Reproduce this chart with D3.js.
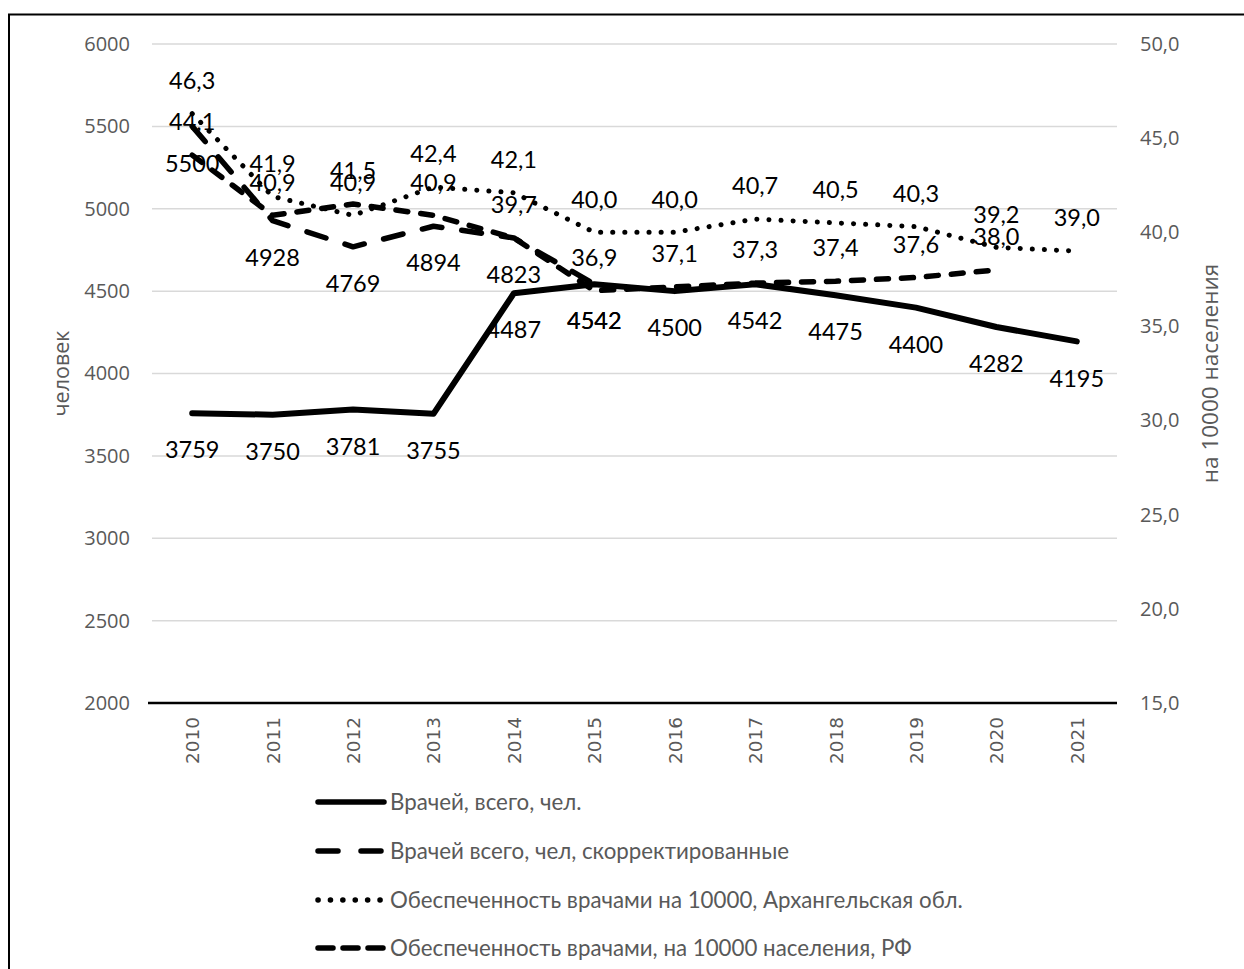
<!DOCTYPE html>
<html>
<head>
<meta charset="utf-8">
<script src="https://cdn.jsdelivr.net/npm/d3@7/dist/d3.min.js"></script>
<style>
  html, body { margin: 0; padding: 0; background: #fff; }
  svg { display: block; }
</style>
</head>
<body>
<svg id="chart" width="1244" height="969"></svg>
<script>
// Годы наблюдения
const years = [2010, 2011, 2012, 2013, 2014, 2015, 2016, 2017, 2018, 2019, 2020, 2021];

// Врачей, всего, чел.
const doctorsTotal = [3759, 3750, 3781, 3755, 4487, 4542, 4500, 4542, 4475, 4400, 4282, 4195];
// Врачей всего, чел, скорректированные (2010–2015)
const doctorsAdjusted = [5500, 4928, 4769, 4894, 4823, 4542];
// Обеспеченность врачами на 10000, Архангельская обл.
const ratioArkh = [46.3, 41.9, 40.9, 42.4, 42.1, 40.0, 40.0, 40.7, 40.5, 40.3, 39.2, 39.0];
// Обеспеченность врачами на 10000 населения, РФ (до 2020)
const ratioRF = [44.1, 40.9, 41.5, 40.9, 39.7, 36.9, 37.1, 37.3, 37.4, 37.6, 38.0];

// Деления осей
const leftTicks = [2000, 2500, 3000, 3500, 4000, 4500, 5000, 5500, 6000];
const rightTicks = [15, 20, 25, 30, 35, 40, 45, 50];

const seriesNames = [
  "Врачей, всего, чел.",
  "Врачей всего, чел, скорректированные",
  "Обеспеченность врачами на 10000, Архангельская обл.",
  "Обеспеченность врачами, на 10000 населения, РФ"
];
const leftTitle = "человек";
const rightTitle = "на 10000 населения";

const svg = d3.select("#chart");
const plot = { left: 152, right: 1117, top: 44, bottom: 703 };

const x = d3.scalePoint().domain(years).range([plot.left, plot.right]).padding(0.5);
const yL = d3.scaleLinear().domain([2000, 6000]).range([plot.bottom, plot.top]);
const yR = d3.scaleLinear().domain([15, 50]).range([plot.bottom, plot.top]);

const commaFmt = d => d3.format(".1f")(d).replace(".", ",");

// Рамка диаграммы
svg.append("rect")
  .attr("x", 9).attr("y", 14.5)
  .attr("width", 1300).attr("height", 1000)
  .attr("fill", "#fff").attr("stroke", "#000").attr("stroke-width", 2);

// Сетка
svg.append("g").selectAll("line")
  .data(leftTicks)
  .join("line")
  .attr("x1", plot.left).attr("x2", plot.right)
  .attr("y1", d => yL(d)).attr("y2", d => yL(d))
  .attr("stroke", "#d9d9d9").attr("stroke-width", 1.5);

// Левая ось
const axL = svg.append("g")
  .attr("transform", `translate(${plot.left},0)`)
  .call(d3.axisLeft(yL).tickValues(leftTicks).tickSize(0).tickPadding(22).tickFormat(d3.format("d")));
axL.select(".domain").remove();
axL.selectAll("text")
  .attr("font-family", "'Open Sans', sans-serif").attr("font-size", 20).attr("fill", "#595959");

// Правая ось
const axR = svg.append("g")
  .attr("transform", `translate(${plot.right},0)`)
  .call(d3.axisRight(yR).tickValues(rightTicks).tickSize(0).tickPadding(23).tickFormat(commaFmt));
axR.select(".domain").remove();
axR.selectAll("text")
  .attr("font-family", "'Open Sans', sans-serif").attr("font-size", 20).attr("fill", "#595959");

// Ось категорий
const axX = svg.append("g")
  .attr("transform", `translate(0,${plot.bottom})`)
  .call(d3.axisBottom(x).tickSize(0).tickFormat(d3.format("d")));
axX.select(".domain")
  .attr("d", `M${plot.left - 4},0H${plot.right}`)
  .attr("stroke", "#000").attr("stroke-width", 2.5);
axX.selectAll("text")
  .attr("font-family", "'DejaVu Sans', sans-serif").attr("font-size", 18.5).attr("fill", "#595959")
  .attr("transform", "rotate(-90)")
  .attr("x", -14).attr("y", 0).attr("dy", "0.35em")
  .attr("text-anchor", "end");

// Названия осей
svg.append("text")
  .attr("transform", `translate(61,${(plot.top + plot.bottom) / 2}) rotate(-90)`)
  .attr("text-anchor", "middle").attr("dy", "0.35em")
  .attr("font-family", "'Open Sans', sans-serif").attr("font-size", 21.5).attr("fill", "#595959")
  .text(leftTitle);
svg.append("text")
  .attr("transform", `translate(1210,${(plot.top + plot.bottom) / 2}) rotate(-90)`)
  .attr("text-anchor", "middle").attr("dy", "0.35em")
  .attr("font-family", "'Open Sans', sans-serif").attr("font-size", 22.5).attr("fill", "#595959")
  .text(rightTitle);

// Описание рядов
const series = [
  { name: seriesNames[0], values: doctorsTotal, y: yL, dash: null, width: 6, labelDy: 37, fmt: d3.format("d") },
  { name: seriesNames[1], values: doctorsAdjusted, y: yL, dash: "20,20", width: 5.5, labelDy: 37, fmt: d3.format("d") },
  { name: seriesNames[2], values: ratioArkh, y: yR, dash: "0.1,12", width: 5, labelDy: -33, fmt: commaFmt },
  { name: seriesNames[3], values: ratioRF, y: yR, dash: "12,13", width: 5.5, labelDy: -33, fmt: commaFmt }
];

const lineGen = yScale => d3.line()
  .x((d, i) => x(years[i]))
  .y(d => yScale(d));

const linesG = svg.append("g");
series.forEach(s => {
  linesG.append("path")
    .datum(s.values)
    .attr("d", lineGen(s.y))
    .attr("fill", "none")
    .attr("stroke", "#000")
    .attr("stroke-width", s.width)
    .attr("stroke-linecap", "round")
    .attr("stroke-linejoin", "round")
    .attr("stroke-dasharray", s.dash);
});

// Подписи значений
const labelsG = svg.append("g");
series.forEach(s => {
  labelsG.selectAll(null)
    .data(s.values)
    .join("text")
    .attr("x", (d, i) => x(years[i]))
    .attr("y", d => s.y(d) + s.labelDy)
    .attr("dy", "0.35em")
    .attr("text-anchor", "middle")
    .attr("font-family", "Lato, sans-serif")
    .attr("font-size", 23.5)
    .attr("fill", "#000")
    .text(d => s.fmt(d));
});

// Легенда
const legend = svg.append("g");
const legendRows = [802, 851, 900, 948];
const legendDashes = [null, "20,23", "0.1,12.3", "15,10"];
series.forEach((s, i) => {
  const ly = legendRows[i];
  legend.append("line")
    .attr("x1", 318).attr("x2", 384)
    .attr("y1", ly).attr("y2", ly)
    .attr("stroke", "#000")
    .attr("stroke-width", 5.5)
    .attr("stroke-linecap", "round")
    .attr("stroke-dasharray", legendDashes[i]);
  legend.append("text")
    .attr("x", 390).attr("y", ly).attr("dy", "0.35em")
    .attr("font-family", "Lato, sans-serif").attr("font-size", 22.3).attr("fill", "#595959")
    .text(s.name);
});
</script>
</body>
</html>
